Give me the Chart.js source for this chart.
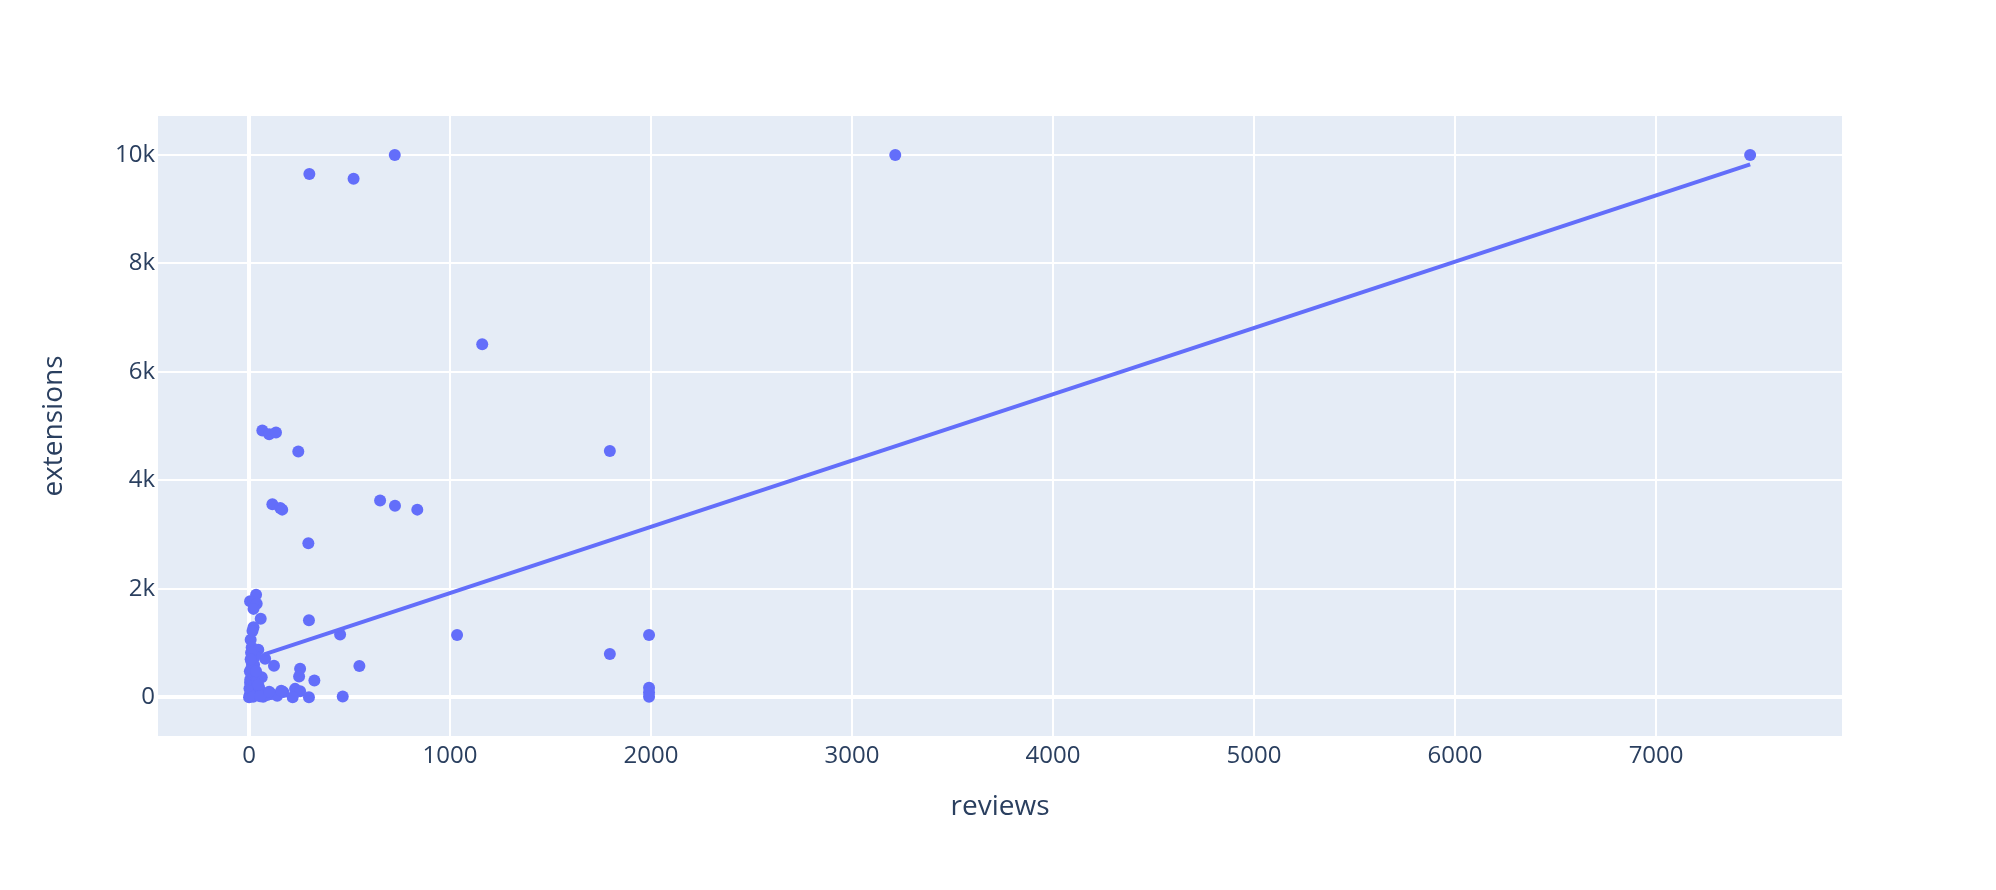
<!DOCTYPE html>
<html>
<head>
<meta charset="utf-8">
<script src="https://cdn.jsdelivr.net/npm/chart.js@4.4.1/dist/chart.umd.min.js"></script>
<style>
  html, body { margin: 0; padding: 0; background: #ffffff; }
  #c { display: block; }
</style>
</head>
<body>
<canvas id="c" width="1996" height="890"></canvas>
<script>
// ---- data ----
const reviews = [
  300, 520, 725, 3215, 7468, 1160, 66, 100, 134, 245, 1795, 116, 155, 165, 652, 726, 837, 295,
  1035, 1795, 1990, 1990, 1990, 1990,
  35, 5, 38, 22, 58, 298, 453, 22, 17, 8, 13, 46, 80, 124, 549, 254, 249, 325, 13, 63, 5,
  171, 229, 254, 217, 298, 466, 113, 70, 5,
  0, 3, 10, 2, 15, 6, 20, 4, 12, 25, 30, 10, 40, 50, 60, 30, 90, 140, 160, 45, 20, 55, 100, 8, 35
];
const extensions = [
  9650, 9560, 10000, 10000, 10000, 6510, 4920, 4850, 4880, 4530, 4540, 3560, 3490, 3460, 3630, 3530, 3460, 2840,
  1150, 800, 1150, 175, 90, 10,
  1890, 1770, 1725, 1630, 1450, 1420, 1157, 1290, 1220, 1060, 920, 875, 710, 580, 575, 525, 385, 310, 640, 370, 270,
  95, 155, 110, 0, 0, 13, 60, 10, 20,
  0, 40, 110, 160, 210, 330, 420, 480, 540, 600, 760, 820, 300, 180, 90, 40, 40, 30, 120, 230, 10, 20, 100, 700, 480
];
const trendX = [75, 7468];
const trendY = [792, 9826];

const xTicks = [0, 1000, 2000, 3000, 4000, 5000, 6000, 7000];
const xTickLabels = ['0', '1000', '2000', '3000', '4000', '5000', '6000', '7000'];
const yTicks = [0, 2000, 4000, 6000, 8000, 10000];
const yTickLabels = ['0', '2k', '4k', '6k', '8k', '10k'];

const xTitle = 'reviews';
const yTitle = 'extensions';

// ---- styling ----
const TEXT = '#2a3f5f';
const MARK = '#636efa';
const FONT = '"Open Sans", "Noto Sans", sans-serif';

const scatterPts = reviews.map((x, i) => ({ x: x, y: extensions[i] }));
const trendPts = trendX.map((x, i) => ({ x: x, y: trendY[i] }));

const bgPlugin = {
  id: 'plotBg',
  beforeDraw(chart) {
    const { ctx, chartArea: a } = chart;
    ctx.save();
    ctx.fillStyle = '#E5ECF6';
    ctx.fillRect(a.left, a.top, a.right - a.left, a.bottom - a.top);
    ctx.restore();
  }
};

new Chart(document.getElementById('c'), {
  type: 'scatter',
  data: {
    datasets: [
      {
        type: 'line',
        data: trendPts,
        borderColor: MARK,
        borderWidth: 4,
        pointRadius: 0,
        fill: false,
        order: 0
      },
      {
        type: 'scatter',
        data: scatterPts,
        backgroundColor: MARK,
        borderWidth: 0,
        pointRadius: 6,
        pointHoverRadius: 6,
        order: 1
      }
    ]
  },
  options: {
    responsive: false,
    animation: false,
    events: [],
    layout: { padding: { top: 116, right: 154, left: 0, bottom: 0 } },
    plugins: { legend: { display: false }, tooltip: { enabled: false } },
    scales: {
      x: {
        type: 'linear',
        min: -453,
        max: 7925,
        border: { display: false },
        grid: {
          color: '#ffffff',
          lineWidth: (c) => (c.tick && c.tick.value === 0 ? 4 : 2),
          drawTicks: false
        },
        afterBuildTicks(scale) { scale.ticks = xTicks.map(v => ({ value: v })); },
        afterFit(scale) { scale.height = 154; },
        ticks: {
          padding: 6,
          color: TEXT,
          font: { family: FONT, size: 24 },
          maxRotation: 0,
          autoSkip: false,
          callback: (v) => { const i = xTicks.indexOf(v); return i >= 0 ? xTickLabels[i] : ''; }
        },
        title: {
          display: true,
          text: xTitle,
          color: TEXT,
          font: { family: FONT, size: 28 },
          padding: { top: 0, bottom: 66 }
        }
      },
      y: {
        type: 'linear',
        min: -714,
        max: 10718,
        border: { display: false },
        grid: {
          color: '#ffffff',
          lineWidth: (c) => (c.tick && c.tick.value === 0 ? 4 : 2),
          drawTicks: false
        },
        afterBuildTicks(scale) { scale.ticks = yTicks.map(v => ({ value: v })); },
        afterFit(scale) { scale.width = 158; },
        ticks: {
          padding: 3,
          color: TEXT,
          font: { family: FONT, size: 24 },
          autoSkip: false,
          callback: (v) => { const i = yTicks.indexOf(v); return i >= 0 ? yTickLabels[i] : ''; }
        },
        title: {
          display: true,
          text: yTitle,
          color: TEXT,
          font: { family: FONT, size: 28 },
          padding: { top: 37, bottom: 0 }
        }
      }
    }
  },
  plugins: [bgPlugin]
});
</script>
</body>
</html>
